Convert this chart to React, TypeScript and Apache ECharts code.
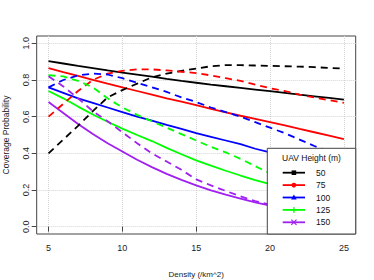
import React, { useEffect, useRef } from "react";
import * as echarts from "echarts";

const density: number[] = [5, 6, 7, 8, 9, 10, 11, 12, 13, 14, 15, 16, 17, 18, 19, 20, 21, 22, 23, 24, 25];

const heights: string[] = ["50", "75", "100", "125", "150"];
const colors: string[] = ["#000000", "#ff0000", "#0000ff", "#00ff00", "#a020f0"];

const h50Solid: number[] = [0.903, 0.89, 0.877, 0.865, 0.852, 0.84, 0.829, 0.818, 0.806, 0.795, 0.785, 0.775, 0.766, 0.757, 0.748, 0.739, 0.73, 0.72, 0.711, 0.702, 0.693];
const h75Solid: number[] = [0.865, 0.843, 0.822, 0.801, 0.78, 0.76, 0.74, 0.72, 0.7, 0.682, 0.663, 0.643, 0.624, 0.605, 0.588, 0.57, 0.552, 0.533, 0.515, 0.497, 0.478];
const h100Solid: number[] = [0.76, 0.73, 0.7, 0.675, 0.65, 0.625, 0.6, 0.578, 0.555, 0.533, 0.51, 0.49, 0.47, 0.45, 0.425, 0.405, 0.39, 0.37, 0.355, 0.34, 0.325];
const h125Solid: number[] = [0.74, 0.7, 0.655, 0.612, 0.572, 0.535, 0.5, 0.467, 0.43, 0.395, 0.362, 0.333, 0.305, 0.279, 0.254, 0.232, 0.212, 0.193, 0.176, 0.16, 0.145];
const h150Solid: number[] = [0.68, 0.62, 0.56, 0.505, 0.455, 0.41, 0.365, 0.325, 0.288, 0.255, 0.225, 0.198, 0.175, 0.153, 0.133, 0.115, 0.1, 0.087, 0.075, 0.065, 0.056];

const h50Dashed: number[] = [0.4, 0.475, 0.55, 0.63, 0.705, 0.745, 0.78, 0.815, 0.835, 0.85, 0.862, 0.875, 0.881, 0.881, 0.879, 0.877, 0.875, 0.873, 0.87, 0.866, 0.862];
const h75Dashed: number[] = [0.6, 0.67, 0.74, 0.8, 0.835, 0.85, 0.858, 0.858, 0.852, 0.845, 0.838, 0.825, 0.81, 0.795, 0.775, 0.755, 0.74, 0.72, 0.705, 0.69, 0.675];
const h100Dashed: number[] = [0.76, 0.8, 0.825, 0.835, 0.83, 0.81, 0.785, 0.76, 0.735, 0.705, 0.68, 0.65, 0.625, 0.6, 0.57, 0.54, 0.51, 0.475, 0.44, 0.41, 0.38];
const h125Dashed: number[] = [0.826, 0.82, 0.795, 0.76, 0.7, 0.65, 0.61, 0.575, 0.54, 0.505, 0.47, 0.435, 0.405, 0.37, 0.33, 0.29, 0.26, 0.23, 0.2, 0.175, 0.15];
const h150Dashed: number[] = [0.82, 0.765, 0.7, 0.63, 0.575, 0.515, 0.455, 0.4, 0.355, 0.31, 0.258, 0.225, 0.195, 0.165, 0.14, 0.12, 0.1, 0.085, 0.07, 0.06, 0.05];

const xTicks: number[] = [5, 10, 15, 20, 25];
const yTicks: number[] = [0, 0.2, 0.4, 0.6, 0.8, 1.0];

const xTitle = "Density (/km^2)";
const yTitle = "Coverage Probability";
const legendTitle = "UAV Height (m)";

const solidSets = [h50Solid, h75Solid, h100Solid, h125Solid, h150Solid];
const dashedSets = [h50Dashed, h75Dashed, h100Dashed, h125Dashed, h150Dashed];

const FONT = "'Liberation Sans', Arial, Helvetica, sans-serif";
const LZ = 100;

function legendMarker(i: number, cx: number, cy: number, color: string): any[] {
  const s = 2.3;
  if (i === 0) return [{ type: "rect", z: LZ + 2, shape: { x: cx - s, y: cy - s, width: 2 * s, height: 2 * s }, style: { fill: color } }];
  if (i === 1) return [{ type: "circle", z: LZ + 2, shape: { cx, cy, r: 2.4 }, style: { fill: color } }];
  if (i === 2)
    return [{ type: "polygon", z: LZ + 2, shape: { points: [[cx, cy - 3], [cx + 2.8, cy + 2], [cx - 2.8, cy + 2]] }, style: { fill: color } }];
  if (i === 3)
    return [
      { type: "line", z: LZ + 2, shape: { x1: cx - 3, y1: cy, x2: cx + 3, y2: cy }, style: { stroke: color, lineWidth: 1.2 } },
      { type: "line", z: LZ + 2, shape: { x1: cx, y1: cy - 3, x2: cx, y2: cy + 3 }, style: { stroke: color, lineWidth: 1.2 } },
    ];
  return [
    { type: "line", z: LZ + 2, shape: { x1: cx - 2.6, y1: cy - 2.6, x2: cx + 2.6, y2: cy + 2.6 }, style: { stroke: color, lineWidth: 1.2 } },
    { type: "line", z: LZ + 2, shape: { x1: cx - 2.6, y1: cy + 2.6, x2: cx + 2.6, y2: cy - 2.6 }, style: { stroke: color, lineWidth: 1.2 } },
  ];
}

export default function App() {
  const ref = useRef<HTMLDivElement>(null);

  useEffect(() => {
    if (!ref.current) return;
    const chart = echarts.init(ref.current, null, { renderer: "svg" });

    const series: any[] = [];
    heights.forEach((h, i) => {
      series.push({
        name: h,
        type: "line",
        data: density.map((d, k) => [d, solidSets[i][k]]),
        showSymbol: false,
        symbol: "none",
        lineStyle: { color: colors[i], width: 1.8, type: "solid" },
        itemStyle: { color: colors[i] },
        z: 3,
      });
    });
    heights.forEach((h, i) => {
      series.push({
        name: h + " (dashed)",
        type: "line",
        data: density.map((d, k) => [d, dashedSets[i][k]]),
        showSymbol: false,
        symbol: "none",
        lineStyle: { color: colors[i], width: 1.8, type: [7, 5] },
        itemStyle: { color: colors[i] },
        z: 3,
      });
    });

    const lx = 267.3, ly = 148.3, lw = 88.4, lh = 85.7;
    const legendChildren: any[] = [
      { type: "rect", z: LZ, shape: { x: lx, y: ly, width: lw, height: lh }, style: { fill: "#fff", stroke: "#444", lineWidth: 1 } },
      {
        type: "text",
        z: LZ + 1,
        style: { text: legendTitle, x: lx + lw / 2, y: ly + 10, align: "center", verticalAlign: "middle", fontSize: 8.5, fontFamily: FONT, fill: "#111" },
      },
    ];
    heights.forEach((h, i) => {
      const yy = ly + 24.4 + i * 12.4;
      legendChildren.push({ type: "line", z: LZ + 1, shape: { x1: lx + 15.4, y1: yy, x2: lx + 37.7, y2: yy }, style: { stroke: colors[i], lineWidth: 1.8 } });
      legendMarker(i, lx + 26.6, yy, colors[i]).forEach((m) => legendChildren.push(m));
      legendChildren.push({
        type: "text",
        z: LZ + 1,
        style: { text: h, x: lx + 48.7, y: yy, align: "left", verticalAlign: "middle", fontSize: 8.5, fontFamily: FONT, fill: "#111" },
      });
    });

    chart.setOption({
      animation: false,
      backgroundColor: "#fff",
      textStyle: { fontFamily: FONT },
      grid: {
        left: 36.7,
        right: 18.3,
        top: 36,
        bottom: 46,
        show: true,
        borderColor: "#444",
        borderWidth: 1,
        backgroundColor: "transparent",
        outerBoundsMode: "none",
        containLabel: false,
      },
      xAxis: {
        type: "value",
        min: 4.2,
        max: 25.8,
        name: xTitle,
        nameLocation: "middle",
        nameGap: 36,
        nameMoveOverlap: false,
        nameTextStyle: { fontSize: 8, color: "#222", fontFamily: FONT },
        axisLine: { show: false },
        axisTick: { show: true, length: 5, customValues: xTicks, lineStyle: { color: "#444" } },
        axisLabel: { customValues: xTicks, fontSize: 9, color: "#222", margin: 9, fontFamily: FONT },
        splitLine: { show: true, lineStyle: { color: "#d3d3d3", type: "dotted", width: 1 } },
      },
      yAxis: {
        type: "value",
        min: -0.04,
        max: 1.04,
        name: yTitle,
        nameLocation: "middle",
        nameGap: 26.5,
        nameMoveOverlap: false,
        nameTextStyle: { fontSize: 8.5, color: "#222", fontFamily: FONT },
        axisLine: { show: false },
        axisTick: { show: true, length: 5, customValues: yTicks, lineStyle: { color: "#444" } },
        axisLabel: {
          customValues: yTicks,
          fontSize: 9,
          color: "#222",
          rotate: 90,
          margin: 6,
          fontFamily: FONT,
          formatter: (v: number) => v.toFixed(1),
        },
        splitLine: { show: true, lineStyle: { color: "#d3d3d3", type: "dotted", width: 1 } },
      },
      series,
      graphic: legendChildren,
    });

    return () => chart.dispose();
  }, []);

  return <div ref={ref} style={{ position: "fixed", left: 0, top: 0, width: 374, height: 280 }} />;
}
